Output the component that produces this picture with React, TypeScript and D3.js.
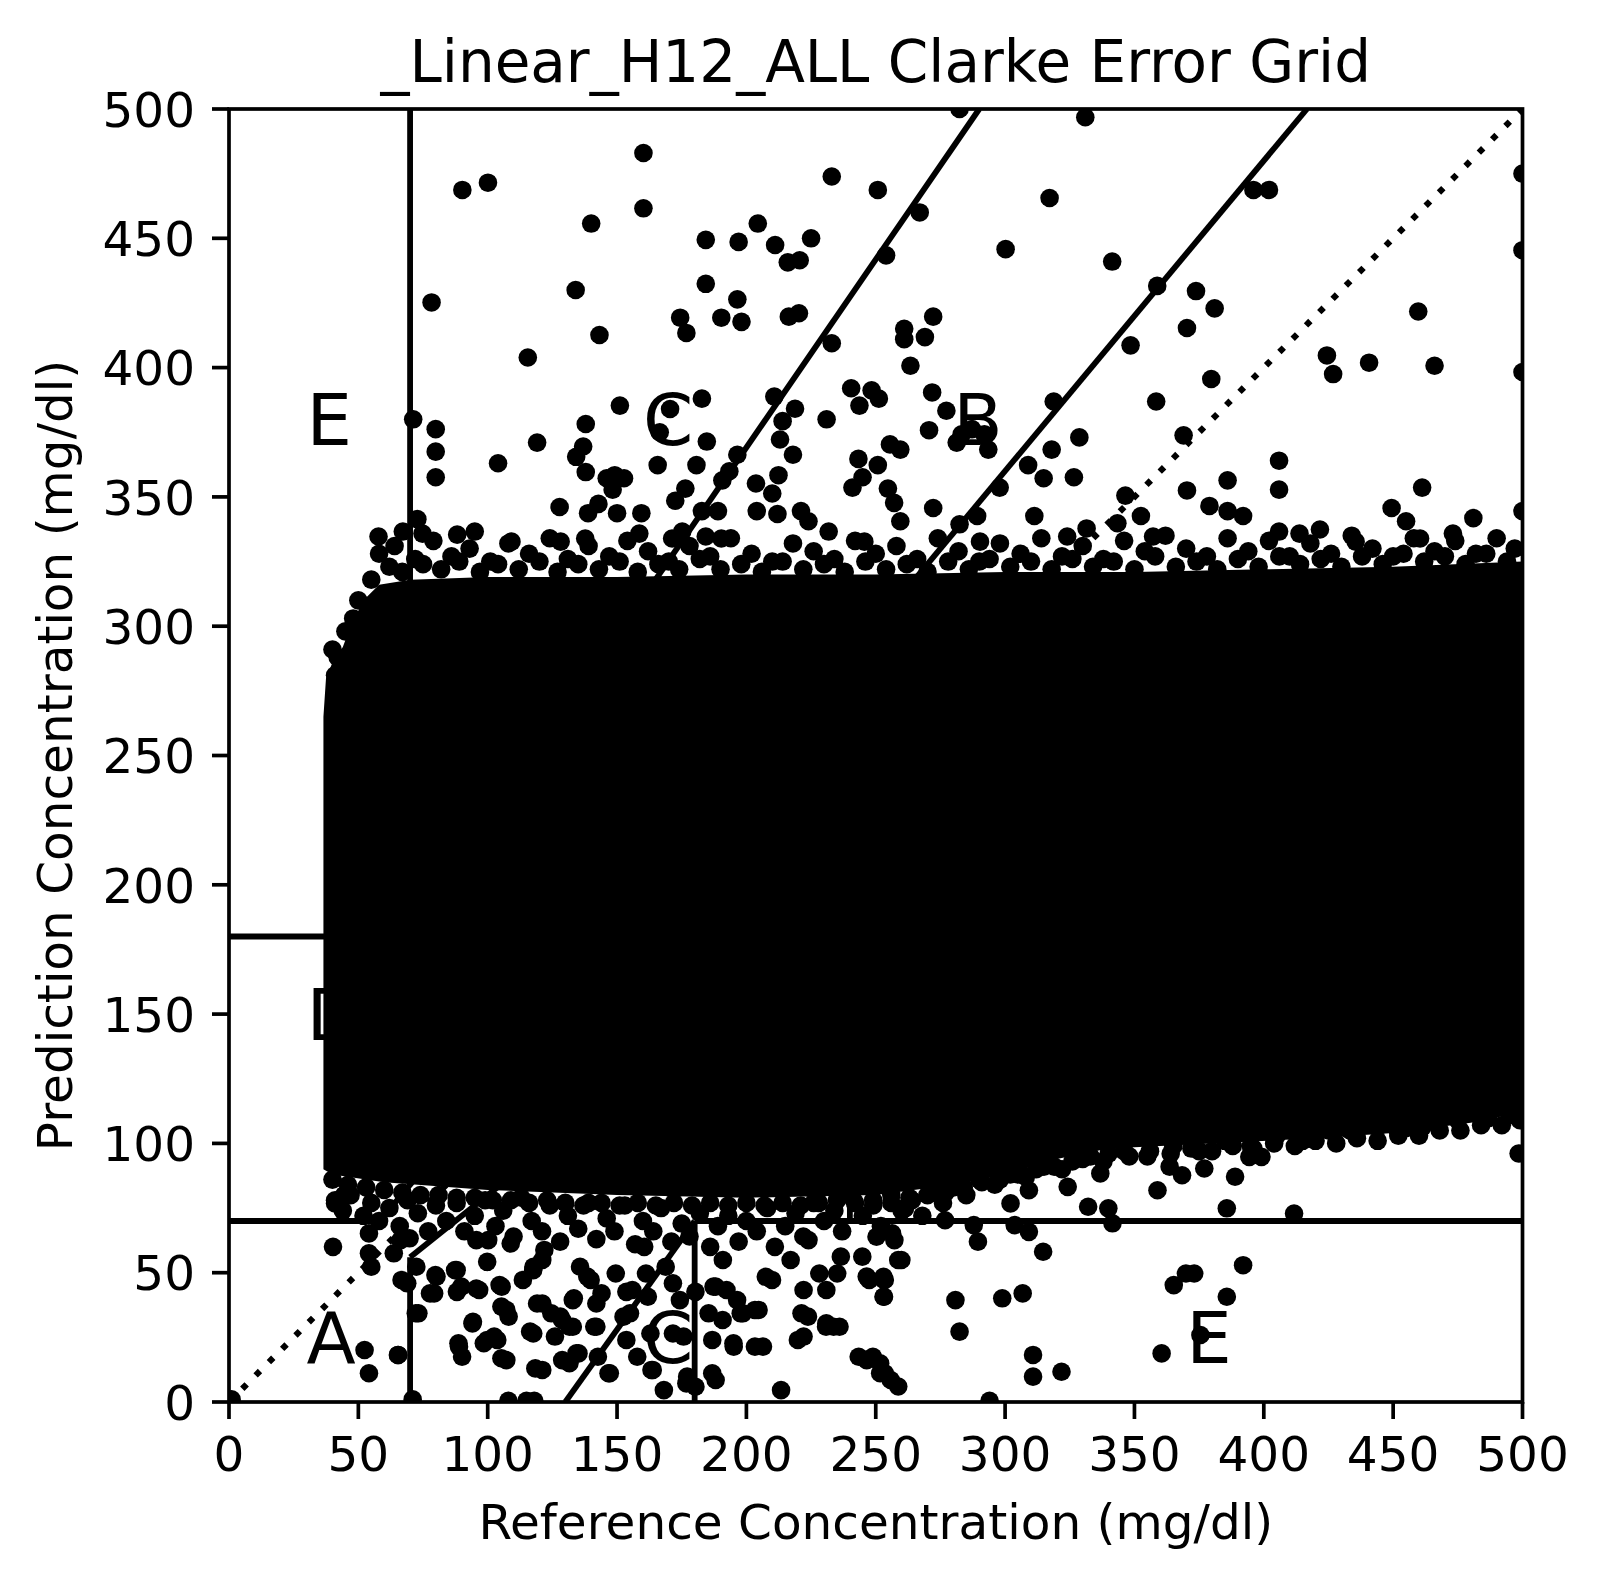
import * as d3 from 'd3';

type Pt = [number, number];

const refTicks = [0, 50, 100, 150, 200, 250, 300, 350, 400, 450, 500];
const predTicks = [0, 50, 100, 150, 200, 250, 300, 350, 400, 450, 500];

// outline of the saturated block of points (reference, prediction)
const denseCore: Pt[] = [
  [36.5, 93], [36.5, 265], [37.5, 280], [40, 286], [44, 292], [47, 300], [52, 310], [58, 316],
  [70, 318], [100, 319], [150, 319], [200, 320], [250, 320], [300, 321], [350, 321],
  [400, 322], [450, 323], [500, 325], [500, 112], [480, 108], [450, 104], [420, 102],
  [380, 100], [340, 98], [320, 94], [300, 88], [280, 84], [250, 80], [200, 79], [150, 80],
  [100, 82], [60, 85], [40, 88], [36.5, 90],
];

const upperOutliers: Pt[] = [
  [90.2, 468.7], [100.1, 471.5], [160.2, 483], [160.2, 461.6], [140, 455.7], [134, 430], [143.2, 412.6],
  [115.5, 403.9], [78.3, 425.2], [184.3, 449.4], [197, 448.6], [204.4, 455.7], [211.1, 447.4], [216, 440.7],
  [220.6, 441.5], [225, 450], [184.3, 432.4], [196.5, 426.4], [198.1, 417.7], [190.3, 419.3], [174.4, 419.3],
  [176.8, 413.4], [216.4, 419.7], [220.3, 421], [233, 473.9], [250.8, 468.7], [254, 443.4], [267, 460],
  [261, 415], [261, 411], [263.4, 400.7], [269, 411.8], [272.2, 419.7], [233, 409.4], [282.4, 500],
  [331, 496.8], [300.2, 445.8], [317.2, 465.6], [341.4, 441], [396, 468.7], [402, 468.7], [358.8, 431.6],
  [373.8, 429.6], [381, 422.9], [370.3, 415.3], [348.5, 408.6], [379.7, 395.6], [358.4, 386.9], [369, 373.8],
  [405.9, 364], [405.9, 352.8], [424.4, 404.7], [426.8, 397.5], [440.7, 401.9], [459.7, 421.7], [466, 400.7],
  [461.2, 353.6], [500, 475], [500, 445.4], [500, 398.3], [318.8, 386.9], [328.7, 373], [318, 368.3],
  [326.6, 357.6], [314.9, 357.2], [308.9, 362.3], [297.9, 353.6], [287.2, 376.2], [283.2, 374.2], [277.3, 383.3],
  [281.3, 371], [292, 374.2], [289.2, 342.6], [311.3, 342.6], [282.4, 339.4], [290.3, 332.7], [271.8, 390.4],
  [270.6, 375.8], [272.2, 345.7], [255.5, 370.3], [259.5, 368.3], [250.8, 362.3], [244.9, 357.6], [241, 353.6],
  [254.7, 353.2], [257.1, 347.7], [259.5, 340.6], [243.3, 364.7], [240.5, 392], [248.4, 391.2], [251.2, 388],
  [243.7, 385.3], [231, 380], [218.8, 384.1], [210.8, 388.8], [214, 379.3], [213, 372.2], [210, 351.3],
  [218, 366.3], [212.4, 358.4], [204, 344.5], [203.7, 355.2], [193.4, 359.9], [196.5, 366.3], [190.7, 356.4],
  [182.8, 388], [184.7, 371.4], [180.7, 362.3], [176.4, 353.2], [172.5, 348.5], [189, 344.5], [182.8, 344.5],
  [166.5, 375], [170.5, 384], [165.7, 362.3], [151.1, 385.3], [137.9, 378.2], [136.9, 369.5], [134.2, 365.5],
  [137.9, 359.6], [146, 357.2], [149.1, 358.4], [152.7, 357.2], [148.3, 352.8], [142.8, 347.3], [150, 343.7],
  [138.8, 343.7], [159.4, 343.7], [119.1, 371], [104, 363], [71.2, 380], [79.9, 376.2], [79.9, 367.5],
  [79.9, 357.6], [95, 336.6], [88.2, 335.4], [74.8, 335.8], [67.2, 336.6], [57.8, 334.7], [72.8, 341.4],
  [109.2, 332.7], [128.2, 332.7], [137.7, 333.9], [127.8, 346.1], [171.3, 333.9], [175.2, 336.6], [184.3, 334.7],
  [190.3, 333.9], [158.6, 335.8], [231.8, 336.6], [221.1, 344.5], [224, 340.6], [212, 343.4], [245.6, 332.7],
  [293.5, 368.3], [324, 334.7], [331.5, 337.8], [343.4, 339.8], [346.5, 350.5], [352.5, 342.6], [357.2, 334.7],
  [370.3, 352.5], [379, 346.5], [386, 356.4], [386, 344.5], [392, 342.6], [405.9, 336.6], [413.8, 335.8],
  [421.7, 337.4], [435.5, 332.7], [449.4, 345.7], [455, 340.6], [460.4, 333.9], [473.1, 335.8], [481, 341.8],
  [500, 344.5],
];

const topFringe: Pt[] = [
  [40, 291], [42, 288], [41, 281], [43, 277], [45, 298], [48, 303], [50, 310], [55, 318],
  [58, 328], [64, 331], [72, 326], [79, 333], [86, 327], [93, 330], [101, 325], [108, 332], [116, 328],
  [124, 334], [131, 326], [139, 331], [147, 327], [154, 333], [162, 329], [170, 325], [178, 331], [186, 327],
  [194, 334], [202, 328], [210, 325], [218, 332], [226, 329], [234, 326], [242, 333], [250, 328], [258, 331],
  [266, 326], [274, 334], [282, 329], [290, 325], [298, 332], [306, 328], [314, 334], [322, 327], [330, 331],
  [338, 326], [346, 333], [354, 329], [362, 335], [370, 330], [378, 327], [386, 334], [394, 329], [402, 333],
  [410, 327], [418, 332], [426, 328], [434, 335], [442, 330], [450, 327], [458, 334], [466, 329], [474, 333],
  [482, 328], [490, 334], [497, 330],
];

const topRim: Pt[] = [
  [62, 323], [67, 321], [75, 324], [82, 322], [89, 325], [97, 321], [104, 324], [112, 322], [120, 325],
  [127, 321], [135, 324], [143, 322], [151, 325], [158, 321], [166, 324], [174, 322], [182, 326], [190, 322],
  [198, 324], [206, 321], [214, 325], [222, 322], [230, 324], [238, 321], [246, 325], [254, 322], [262, 324],
  [270, 321], [278, 325], [286, 322], [294, 326], [302, 323], [310, 325], [318, 322], [326, 326], [334, 323],
  [342, 325], [350, 322], [358, 327], [366, 323], [374, 325], [382, 322], [390, 326], [398, 323], [406, 327],
  [414, 324], [422, 326], [430, 323], [438, 327], [446, 324], [454, 328], [462, 325], [470, 327], [478, 324],
  [486, 328], [494, 325],
];

const bottomRim: Pt[] = [
  [40, 86], [46, 84], [53, 83], [60, 82], [67, 81], [74, 80], [81, 80], [88, 79], [95, 79], [102, 78],
  [109, 78], [116, 77], [123, 78], [130, 77], [137, 76], [144, 77], [151, 76], [158, 77], [165, 76], [172, 77],
  [179, 76], [186, 77], [193, 76], [200, 77], [207, 76], [214, 77], [221, 76], [228, 77], [235, 78], [242, 77],
  [249, 78], [256, 77], [263, 79], [270, 80], [277, 81], [284, 83], [291, 85], [298, 86], [305, 88], [312, 90],
  [319, 91], [326, 93], [333, 95], [340, 96], [348, 95], [356, 97], [364, 96], [372, 98], [380, 97], [388, 99],
  [396, 98], [404, 100], [412, 99], [420, 101], [428, 100], [436, 102], [444, 101], [452, 103], [460, 103],
  [468, 105], [476, 105], [484, 107], [492, 107], [499, 109],
];

const bottomFringe: Pt[] = [
  [41, 78], [44, 74], [47, 80], [52, 72], [55, 77], [58, 70], [62, 75], [66, 68], [69, 78], [73, 73], [77, 66],
  [80, 76], [84, 70], [88, 77], [91, 66], [95, 72], [99, 78], [103, 68], [106, 74], [110, 64], [113, 79],
  [117, 70], [121, 66], [124, 76], [128, 62], [131, 72], [135, 67], [139, 77], [142, 63], [146, 71], [149, 66],
  [153, 76], [157, 61], [160, 70], [164, 66], [167, 75], [171, 62], [175, 69], [178, 64], [182, 73], [186, 60],
  [189, 68], [193, 72], [197, 62], [200, 70], [204, 66], [208, 75], [211, 60], [215, 68], [219, 73], [222, 64],
  [226, 77], [230, 70], [234, 74], [237, 66], [241, 79], [245, 72], [249, 76], [252, 68], [256, 80], [260, 74],
  [264, 78], [268, 72], [272, 81], [276, 77], [280, 83], [285, 80], [290, 86], [296, 84], [302, 88], [308, 87],
  [315, 91], [322, 90], [330, 94], [338, 93], [346, 97], [355, 95], [365, 99], [375, 97], [385, 101], [395, 99],
  [405, 103], [415, 101], [425, 105], [435, 104], [445, 107], [455, 106], [465, 110], [475, 109], [485, 113],
  [495, 111],
];

const lowerOutliers: Pt[] = [
  [1, 1], [71, 1], [108, 0.5], [115, 0.5], [118, 0.5], [294, 0.5],
  [40.2, 60], [41, 76.8], [44.5, 80], [54.1, 65.2], [54.1, 57.5], [55, 52.3], [52.4, 20.1], [54.1, 11.1],
  [65.4, 18.2], [63.7, 57.5], [66.3, 62.6], [69.8, 63.3], [68.9, 45.9], [73.2, 34.3], [72.4, 52.3],
  [80.2, 48.5], [79.3, 42], [88, 51], [89.8, 44.6], [96.7, 43.3], [94.1, 30.4], [88.9, 21.4], [98.5, 22.7],
  [103.7, 24], [105.4, 44.6], [107.2, 35.6], [107.2, 16.2], [100.2, 62.6], [108.9, 61.3], [117.6, 51],
  [121.1, 54.9], [121.1, 38.1], [117.6, 26.5], [121.1, 12.4], [128.1, 33], [131.6, 29.1], [131.6, 15],
  [135.1, 18.8], [133.3, 40.1], [138.5, 48.5], [142, 38.1], [142, 29.1], [147.2, 11.1], [152.5, 33],
  [155.9, 43.3], [161.2, 49.7], [162.9, 26.5], [163.8, 12.4], [168.1, 4.6], [171.6, 26.5], [176.8, 7.2],
  [180.3, 5.9], [180.3, 42.6], [187.3, 44.6], [188.1, 8.5], [190.8, 31.7], [195.1, 21.4], [198.6, 34.3],
  [204.7, 35.6], [206.4, 21.4], [209.9, 47.2], [213.4, 4.6], [223.8, 33], [222.1, 25.3], [230.8, 29.1],
  [236, 29.1], [246.5, 16.2], [251.7, 15], [253.5, 11.1], [258.7, 6], [222.1, 43.3], [246.5, 48.5],
  [253.5, 47.2],
  [65.3, 18.2], [72.2, 34.3], [66.7, 47.2], [77.7, 42], [79.8, 49.1], [87.4, 51], [88.1, 42.6], [95.6, 43.9],
  [94.3, 31], [88.7, 22.7], [90.1, 17.5], [99.8, 24], [102.5, 25.3], [104.6, 45.2], [105.3, 16.9],
  [105.3, 36.9], [108.1, 33], [99.8, 54.2], [95.6, 62.6], [113.6, 47.2], [117.7, 52.3], [116.4, 27.2],
  [118.4, 13], [119.1, 38.1], [121.9, 58.8], [124.6, 34.3], [126, 25.3], [128.8, 31.7], [128.8, 16.2],
  [132.9, 29.1], [134.3, 18.8], [135.7, 52.3], [132.9, 39.4], [139.8, 47.2], [141.2, 29.1], [142.6, 17.5],
  [144, 42], [146.7, 11.1], [149.5, 49.7], [153.6, 42.6], [155, 34.3], [153.6, 24], [157.8, 17.5], [160.5, 60],
  [161.9, 40.7], [163.3, 12.4], [168.8, 52.3], [171.6, 45.9], [174.3, 39.4], [175.7, 25.3], [177.1, 9.8],
  [185.4, 34.3], [186.8, 24], [188.1, 44.6], [186.8, 11.1], [190.9, 54.9], [192.3, 43.3], [195, 22.7],
  [196.4, 39.4], [197.8, 34.3], [203.3, 35.6], [203.3, 21.4], [207.5, 48.4], [217.1, 54.9], [221.3, 34.3],
  [219.9, 24], [230.9, 30.4], [233.7, 29.1], [228.2, 49.7], [235.1, 49.7], [230.9, 43.3], [236.5, 56.2],
  [244.8, 56.2], [247.5, 47.2], [253, 48.4], [253, 40.7], [259.9, 54.9], [257.2, 62.6], [250.3, 63.9],
  [261.3, 74.9], [224, 62.6], [243.4, 17.5], [248.9, 17.5], [251.7, 11.1], [255.8, 8.5],
];

const rightLower: Pt[] = [
  [261.1, 74.9], [256.3, 65.2], [258.7, 54.9], [253.2, 47.2], [253.2, 40.7], [276.8, 70.3], [280.8, 39.4],
  [282.4, 27.2], [289.5, 62], [287.9, 68.4], [302.1, 76.8], [303.7, 68.4], [309.2, 65.8], [309.2, 81.9],
  [314.7, 58.1], [324.2, 83.2], [298.9, 40.1], [306.8, 42], [310.8, 18.2], [310.8, 9.8], [321.8, 11.7],
  [332.1, 75.5], [336.8, 88.4], [339.9, 74.9], [341.5, 69.1], [358.9, 81.9], [363.6, 91], [368.4, 87.7],
  [377, 90.3], [385.7, 74.9], [388.9, 87.1], [365.2, 45.2], [369.9, 49.7], [373.1, 49.7], [360.5, 18.8],
  [375.5, 25.9], [385.7, 40.7], [392, 52.9], [411.7, 72.9], [394.4, 94.8], [399.1, 94.8], [415.7, 103.9],
  [433, 105.2], [452, 103.9], [461.4, 106.4], [486.7, 109.7], [498.5, 96.1], [475.6, 112.9],
];

// Clarke grid zone boundaries
const zoneLines: [Pt, Pt][] = [
  [[0, 70], [175 / 3, 70]],
  [[175 / 3, 70], [500 / 1.2, 500]],
  [[70, 84], [70, 500]],
  [[0, 180], [70, 180]],
  [[70, 180], [290, 500]],
  [[70, 0], [70, 56]],
  [[70, 56], [400, 320]],
  [[180, 0], [180, 70]],
  [[180, 70], [500, 70]],
  [[240, 70], [240, 180]],
  [[240, 180], [500, 180]],
  [[130, 0], [180, 70]],
];
const identityLine: [Pt, Pt] = [[0, 0], [500, 500]];

const zoneLabels = [
  { t: 'A', x: 30, y: 15 },
  { t: 'B', x: 370, y: 260 },
  { t: 'B', x: 280, y: 370 },
  { t: 'C', x: 160, y: 370 },
  { t: 'C', x: 160, y: 15 },
  { t: 'D', x: 30, y: 140 },
  { t: 'D', x: 370, y: 120 },
  { t: 'E', x: 30, y: 370 },
  { t: 'E', x: 370, y: 15 },
];

export default function App() {
  const W = 1604;
  const H = 1587;
  const m = { left: 229, right: 1522.5, top: 109, bottom: 1402 };
  const font = 'DejaVu Sans, sans-serif';
  const tickFs = 48.5;

  const x = d3.scaleLinear().domain([0, 500]).range([m.left, m.right]);
  const y = d3.scaleLinear().domain([0, 500]).range([m.bottom, m.top]);

  const corePath = d3
    .line<Pt>()
    .x((d) => x(d[0]))
    .y((d) => y(d[1]))
    .curve(d3.curveLinearClosed)(denseCore) as string;

  const points = [
    ...upperOutliers,
    ...topFringe,
    ...topRim,
    ...bottomRim,
    ...bottomFringe,
    ...lowerOutliers,
    ...rightLower,
  ];
  const tickLen = 17;
  const pad = 17;

  return (
    <>
      <style>{'body{margin:0}'}</style>
      <svg width={W} height={H} style={{ display: 'block' }}>
        <defs>
          <clipPath id="plotArea">
            <rect x={m.left} y={m.top} width={m.right - m.left} height={m.bottom - m.top} />
          </clipPath>
        </defs>
        <rect x={0} y={0} width={W} height={H} fill="#fff" />

        <g clipPath="url(#plotArea)">
          <path d={corePath} fill="#000" />
          {points.map((p, i) => (
            <circle key={i} cx={x(p[0])} cy={y(p[1])} r={9.3} fill="#000" />
          ))}
          {zoneLines.map(([a, b], i) => (
            <line key={i} x1={x(a[0])} y1={y(a[1])} x2={x(b[0])} y2={y(b[1])} stroke="#000" strokeWidth={5.8} />
          ))}
          <line
            x1={x(identityLine[0][0])}
            y1={y(identityLine[0][1])}
            x2={x(identityLine[1][0])}
            y2={y(identityLine[1][1])}
            stroke="#000"
            strokeWidth={6.2}
            strokeDasharray="6.2 12.6"
          />
        </g>

        {zoneLabels.map((l, i) => (
          <text key={i} x={x(l.x)} y={y(l.y)} fontFamily={font} fontSize={72} fill="#000">
            {l.t}
          </text>
        ))}

        <rect
          x={m.left}
          y={m.top}
          width={m.right - m.left}
          height={m.bottom - m.top}
          fill="none"
          stroke="#000"
          strokeWidth={3.7}
        />

        {refTicks.map((t) => (
          <g key={`x${t}`}>
            <line x1={x(t)} x2={x(t)} y1={m.bottom} y2={m.bottom + tickLen} stroke="#000" strokeWidth={3.7} />
            <text x={x(t)} y={m.bottom + tickLen + pad + 35.4} textAnchor="middle" fontFamily={font} fontSize={tickFs}>
              {t}
            </text>
          </g>
        ))}
        {predTicks.map((t) => (
          <g key={`y${t}`}>
            <line x1={m.left - tickLen} x2={m.left} y1={y(t)} y2={y(t)} stroke="#000" strokeWidth={3.7} />
            <text
              x={m.left - tickLen - pad}
              y={y(t) + 17.7}
              textAnchor="end"
              fontFamily={font}
              fontSize={tickFs}
            >
              {t}
            </text>
          </g>
        ))}

        <text x={(m.left + m.right) / 2} y={82} textAnchor="middle" fontFamily={font} fontSize={58}>
          _Linear_H12_ALL Clarke Error Grid
        </text>
        <text x={(m.left + m.right) / 2} y={1539} textAnchor="middle" fontFamily={font} fontSize={tickFs}>
          Reference Concentration (mg/dl)
        </text>
        <text
          transform={`translate(72,${(m.top + m.bottom) / 2}) rotate(-90)`}
          textAnchor="middle"
          fontFamily={font}
          fontSize={tickFs}
        >
          Prediction Concentration (mg/dl)
        </text>
      </svg>
    </>
  );
}
